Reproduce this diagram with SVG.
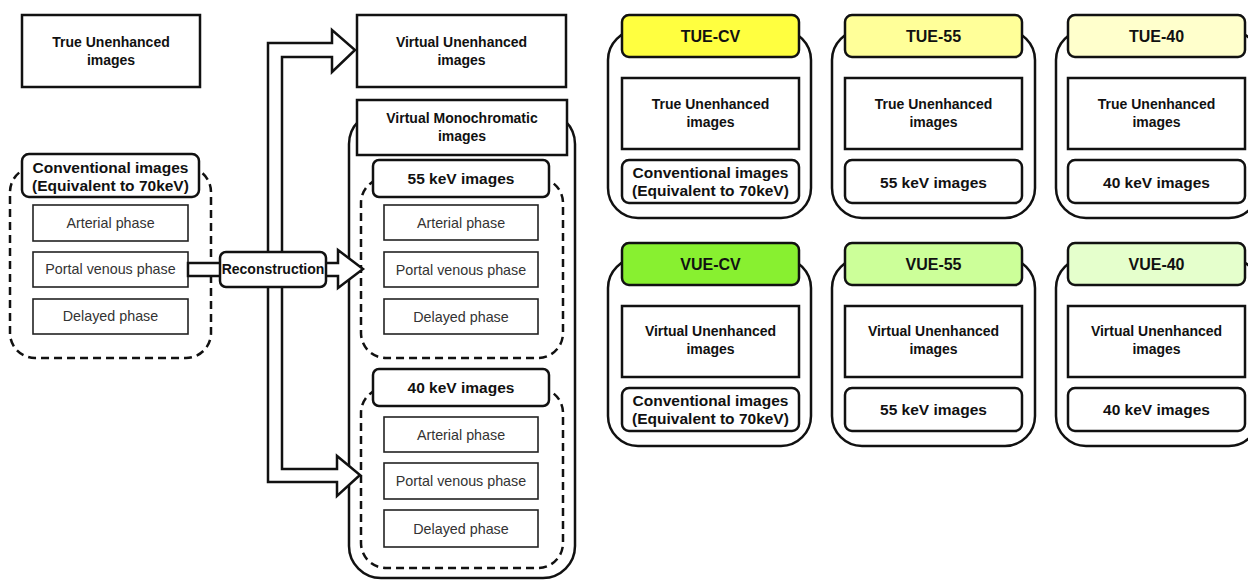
<svg xmlns="http://www.w3.org/2000/svg" width="1248" height="581" viewBox="0 0 1248 581">
<style>
text{font-family:"Liberation Sans",Arial,sans-serif;text-anchor:middle;dominant-baseline:central;fill:#111}
.b{font-weight:bold;font-size:14px}
.h{font-weight:bold;font-size:15.5px}
.t{font-weight:bold;font-size:16px}
.p{font-size:14.3px;fill:#333}
.box{fill:#fff;stroke:#111;stroke-width:2.5}
.rb{fill:#fff;stroke:#111;stroke-width:2.5}
.ph{fill:#fff;stroke:#222;stroke-width:1.6}
.dash{fill:none;stroke:#111;stroke-width:2.5;stroke-dasharray:8 5}
.cont{fill:#fff;stroke:#111;stroke-width:2.5}
.arrow{fill:#fff;stroke:#111;stroke-width:2.5;stroke-linejoin:miter}
</style>
<rect width="1248" height="581" fill="#fff"/>

<g id="true-unenhanced">
<rect class="box" x="22" y="15" width="178" height="72"/>
<text class="b" x="111" y="42">True Unenhanced</text>
<text class="b" x="111" y="60">images</text>
</g>

<g id="conventional">
<rect class="dash" x="10" y="167" width="201" height="191" rx="25"/>
<rect class="rb" x="22" y="154" width="177" height="43" rx="7"/>
<text class="h" x="110.5" y="167">Conventional images</text>
<text class="h" x="110.5" y="185">(Equivalent to 70keV)</text>
<rect class="ph" x="33" y="205" width="155" height="36"/>
<text class="p" x="110.5" y="223">Arterial phase</text>
<rect class="ph" x="33" y="252" width="155" height="35"/>
<text class="p" x="110.5" y="269">Portal venous phase</text>
<rect class="ph" x="33" y="299" width="155" height="35"/>
<text class="p" x="110.5" y="316">Delayed phase</text>
</g>

<g id="virtual-unenhanced">
<rect class="box" x="357" y="15" width="209" height="72"/>
<text class="b" x="461.5" y="42">Virtual Unenhanced</text>
<text class="b" x="461.5" y="60">images</text>
</g>

<g id="virtual-mono">
<rect class="cont" x="349" y="112" width="226" height="466" rx="32"/>
<rect class="box" x="357" y="100" width="210" height="55"/>
<text class="b" x="462" y="118">Virtual Monochromatic</text>
<text class="b" x="462" y="136">images</text>
</g>

<g id="kev55">
<rect class="dash" x="361" y="178" width="202" height="180" rx="25"/>
<rect class="rb" x="373" y="160" width="176" height="37" rx="6"/>
<text class="h" x="461" y="178.5">55 keV images</text>
<rect class="ph" x="384" y="205" width="154" height="35"/>
<text class="p" x="461" y="222.5">Arterial phase</text>
<rect class="ph" x="384" y="252" width="154" height="35"/>
<text class="p" x="461" y="269.5">Portal venous phase</text>
<rect class="ph" x="384" y="299" width="154" height="35"/>
<text class="p" x="461" y="316.5">Delayed phase</text>
</g>

<g id="kev40">
<rect class="dash" x="361" y="388" width="202" height="180" rx="25"/>
<rect class="rb" x="373" y="369" width="176" height="37" rx="6"/>
<text class="h" x="461" y="387.5">40 keV images</text>
<rect class="ph" x="384" y="417" width="154" height="35"/>
<text class="p" x="461" y="434.5">Arterial phase</text>
<rect class="ph" x="384" y="463" width="154" height="36"/>
<text class="p" x="461" y="481">Portal venous phase</text>
<rect class="ph" x="384" y="510" width="154" height="37"/>
<text class="p" x="461" y="528.5">Delayed phase</text>
</g>

<g id="connectors">
<polygon class="arrow" points="282,469 282,57 332,57 332,72 355,50 332,30 332,43 268,43 268,482 337,482 337,496 360,475 337,456 337,469"/>
<polygon class="arrow" points="188,263 338,263 338,250 363,269 338,288 338,276 188,276"/>
</g>

<g id="reconstruction">
<rect class="rb" x="220" y="252" width="106" height="35" rx="6"/>
<text class="b" x="273" y="269">Reconstruction</text>
</g>

<g id="tue-cv">
<rect class="cont" x="608" y="30" width="203" height="188" rx="30"/>
<rect class="rb" x="622" y="15" width="177" height="42" rx="7" style="fill:#ffff40"/>
<text class="t" x="710.5" y="36">TUE-CV</text>
<rect class="box" x="622" y="78" width="177" height="71"/>
<text class="b" x="710.5" y="104">True Unenhanced</text>
<text class="b" x="710.5" y="122">images</text>
<rect class="rb" x="622" y="160" width="177" height="43" rx="7"/>
<text class="h" x="710.5" y="172">Conventional images</text>
<text class="h" x="710.5" y="190">(Equivalent to 70keV)</text>
</g>

<g id="tue-55">
<rect class="cont" x="832" y="30" width="203" height="188" rx="30"/>
<rect class="rb" x="845" y="15" width="177" height="42" rx="7" style="fill:#ffff99"/>
<text class="t" x="933.5" y="36">TUE-55</text>
<rect class="box" x="845" y="78" width="177" height="71"/>
<text class="b" x="933.5" y="104">True Unenhanced</text>
<text class="b" x="933.5" y="122">images</text>
<rect class="rb" x="845" y="160" width="177" height="43" rx="7"/>
<text class="h" x="933.5" y="182">55 keV images</text>
</g>

<g id="tue-40">
<rect class="cont" x="1056" y="30" width="203" height="188" rx="30"/>
<rect class="rb" x="1068" y="15" width="177" height="42" rx="7" style="fill:#ffffcc"/>
<text class="t" x="1156.5" y="36">TUE-40</text>
<rect class="box" x="1068" y="78" width="177" height="71"/>
<text class="b" x="1156.5" y="104">True Unenhanced</text>
<text class="b" x="1156.5" y="122">images</text>
<rect class="rb" x="1068" y="160" width="177" height="43" rx="7"/>
<text class="h" x="1156.5" y="182">40 keV images</text>
</g>

<g id="vue-cv">
<rect class="cont" x="608" y="258" width="203" height="188" rx="30"/>
<rect class="rb" x="622" y="243" width="177" height="42" rx="7" style="fill:#88f030"/>
<text class="t" x="710.5" y="264">VUE-CV</text>
<rect class="box" x="622" y="306" width="177" height="71"/>
<text class="b" x="710.5" y="331">Virtual Unenhanced</text>
<text class="b" x="710.5" y="349">images</text>
<rect class="rb" x="622" y="388" width="177" height="43" rx="7"/>
<text class="h" x="710.5" y="400">Conventional images</text>
<text class="h" x="710.5" y="418">(Equivalent to 70keV)</text>
</g>

<g id="vue-55">
<rect class="cont" x="832" y="258" width="203" height="188" rx="30"/>
<rect class="rb" x="845" y="243" width="177" height="42" rx="7" style="fill:#ccff99"/>
<text class="t" x="933.5" y="264">VUE-55</text>
<rect class="box" x="845" y="306" width="177" height="71"/>
<text class="b" x="933.5" y="331">Virtual Unenhanced</text>
<text class="b" x="933.5" y="349">images</text>
<rect class="rb" x="845" y="388" width="177" height="43" rx="7"/>
<text class="h" x="933.5" y="409.5">55 keV images</text>
</g>

<g id="vue-40">
<rect class="cont" x="1056" y="258" width="203" height="188" rx="30"/>
<rect class="rb" x="1068" y="243" width="177" height="42" rx="7" style="fill:#e5ffcc"/>
<text class="t" x="1156.5" y="264">VUE-40</text>
<rect class="box" x="1068" y="306" width="177" height="71"/>
<text class="b" x="1156.5" y="331">Virtual Unenhanced</text>
<text class="b" x="1156.5" y="349">images</text>
<rect class="rb" x="1068" y="388" width="177" height="43" rx="7"/>
<text class="h" x="1156.5" y="409.5">40 keV images</text>
</g>
</svg>
